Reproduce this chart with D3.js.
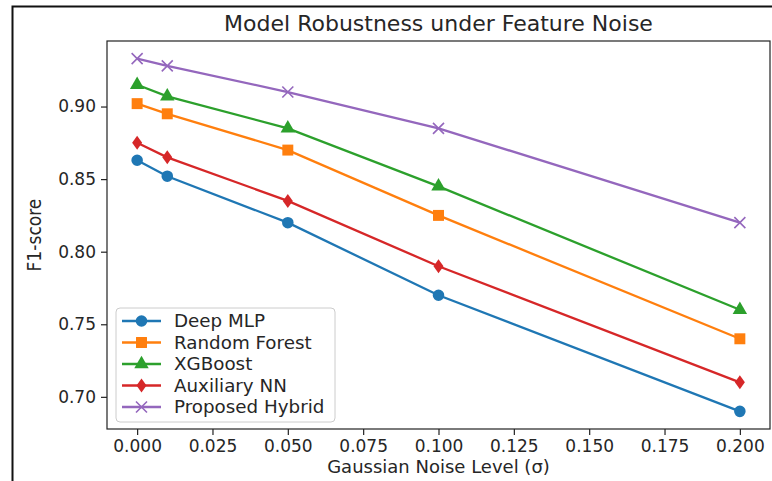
<!DOCTYPE html>
<html><head><meta charset="utf-8">
<script src="https://cdn.jsdelivr.net/npm/d3@7"></script>
<style>body{margin:0;background:#fff;} svg{display:block;}</style>
</head><body>
<script>
const noiseLevels = [0, 0.01, 0.05, 0.1, 0.2];
const deepMLP = [0.863, 0.852, 0.820, 0.770, 0.690];
const randomForest = [0.902, 0.895, 0.870, 0.825, 0.740];
const xgBoost = [0.915, 0.907, 0.885, 0.845, 0.760];
const auxiliaryNN = [0.875, 0.865, 0.835, 0.790, 0.710];
const proposedHybrid = [0.933, 0.928, 0.910, 0.885, 0.820];
const seriesNames = ["Deep MLP", "Random Forest", "XGBoost", "Auxiliary NN", "Proposed Hybrid"];
const xTicks = [0, 0.025, 0.05, 0.075, 0.1, 0.125, 0.15, 0.175, 0.2];
const yTicks = [0.70, 0.75, 0.80, 0.85, 0.90];

const seriesValues = [deepMLP, randomForest, xgBoost, auxiliaryNN, proposedHybrid];
const colors = ["#1f77b4", "#ff7f0e", "#2ca02c", "#d62728", "#9467bd"];
const symbols = [d3.symbolCircle, d3.symbolSquare, d3.symbolTriangle, "diamond", "x"];

const W = 772, H = 481;
const L = 107, R = 770, T = 41, B = 429;
const svg = d3.select("body").append("svg").attr("width", W).attr("height", H);
svg.append("rect").attr("width", W).attr("height", H).attr("fill", "#fff");
// outer frame
svg.append("path").attr("d", `M12.5,${H} V6.5 H${W}`).attr("fill", "none").attr("stroke", "#111").attr("stroke-width", 2);

const allVals = seriesValues.flat();
const yMin = d3.min(allVals), yMax = d3.max(allVals);
const ypad = (yMax - yMin) * 0.05;
const x = d3.scaleLinear().domain([-0.01, 0.21]).range([L, R]);
const y = d3.scaleLinear().domain([yMin - ypad, yMax + ypad]).range([B, T]);

const font = "'DejaVu Sans', sans-serif";

// axes
const gx = svg.append("g").attr("transform", `translate(0,${B})`)
  .call(d3.axisBottom(x).tickValues(xTicks).tickFormat(d3.format(".3f")).tickSize(6).tickPadding(5));
const gy = svg.append("g").attr("transform", `translate(${L},0)`)
  .call(d3.axisLeft(y).tickValues(yTicks).tickFormat(d3.format(".2f")).tickSize(6).tickPadding(5));
[gx, gy].forEach(g => {
  g.select(".domain").remove();
  g.selectAll("line").attr("stroke", "#222").attr("stroke-width", 1.2);
  g.selectAll("text").attr("font-family", font).attr("font-size", 17).attr("fill", "#262626");
});
svg.append("rect").attr("x", L).attr("y", T).attr("width", R - L).attr("height", B - T)
  .attr("fill", "none").attr("stroke", "#222").attr("stroke-width", 1.2);

// lines
const line = d3.line().x((d, i) => x(noiseLevels[i])).y(d => y(d));
function marker(g, sym, color, cx, cy) {
  if (sym === "diamond") {
    g.append("path").attr("d", `M${cx},${cy-7} L${cx+5},${cy} L${cx},${cy+7} L${cx-5},${cy} Z`).attr("fill", color);
  } else if (sym === "x") {
    const s = 5.5;
    g.append("path").attr("d", `M${cx-s},${cy-s} L${cx+s},${cy+s} M${cx-s},${cy+s} L${cx+s},${cy-s}`)
      .attr("stroke", color).attr("stroke-width", 1.6).attr("fill", "none");
  } else {
    const size = sym === d3.symbolCircle ? 105 : (sym === d3.symbolSquare ? 120 : 90);
    g.append("path").attr("d", d3.symbol().type(sym).size(size)()).attr("transform", `translate(${cx},${cy})`).attr("fill", color);
  }
}
seriesValues.forEach((vals, si) => {
  const g = svg.append("g");
  g.append("path").attr("d", line(vals)).attr("fill", "none").attr("stroke", colors[si]).attr("stroke-width", 2.3);
  vals.forEach((v, i) => marker(g, symbols[si], colors[si], x(noiseLevels[i]), y(v)));
});

// title and labels
svg.append("text").attr("x", (L + R) / 2).attr("y", 31).attr("text-anchor", "middle")
  .attr("font-family", font).attr("font-size", 22).attr("fill", "#262626").text("Model Robustness under Feature Noise");
svg.append("text").attr("x", (L + R) / 2).attr("y", 473).attr("text-anchor", "middle")
  .attr("font-family", font).attr("font-size", 18).attr("fill", "#262626").text("Gaussian Noise Level (σ)");
svg.append("text").attr("transform", `translate(41,${(T + B) / 2}) rotate(-90)`).attr("text-anchor", "middle")
  .attr("font-family", "'Liberation Sans Narrow', 'DejaVu Sans Condensed', sans-serif").attr("font-size", 19).attr("fill", "#262626").text("F1-score");

// legend
const lg = svg.append("g");
lg.append("rect").attr("x", 116).attr("y", 308).attr("width", 219).attr("height", 114).attr("rx", 4)
  .attr("fill", "#fff").attr("fill-opacity", 0.8).attr("stroke", "#ccc").attr("stroke-width", 1);
seriesNames.forEach((name, i) => {
  const cy = 321 + i * 21.5;
  lg.append("line").attr("x1", 122).attr("x2", 161).attr("y1", cy).attr("y2", cy).attr("stroke", colors[i]).attr("stroke-width", 2.3);
  marker(lg, symbols[i], colors[i], 141.5, cy);
  lg.append("text").attr("x", 174).attr("y", cy).attr("dy", "0.35em").attr("font-family", font).attr("font-size", 18.3).attr("fill", "#262626").text(name);
});
</script>
</body></html>
